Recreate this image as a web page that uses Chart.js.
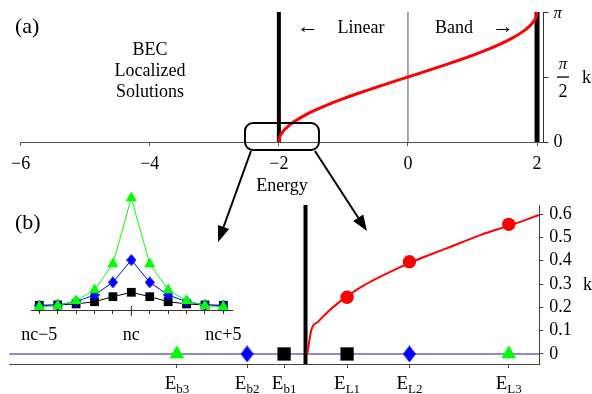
<!DOCTYPE html>
<html><head><meta charset="utf-8">
<script src="https://cdn.jsdelivr.net/npm/chart.js@4.4.0/dist/chart.umd.min.js"></script>
<style>
html,body{margin:0;padding:0;background:#fff;}
#wrap{position:relative;width:592px;height:394px;background:#fff;}
#wrap canvas{position:absolute;left:0;top:0;}
</style></head><body>
<div id="wrap">
<canvas id="ca" width="592" height="394"></canvas>
<canvas id="cb" width="592" height="394"></canvas>
<canvas id="cc" width="592" height="394"></canvas>
</div>
<script>
const SERIF = '"Liberation Serif","Times New Roman",serif';

// ---------- Panel (a): dispersion k(E) ----------
const aEnergy = [-2,-1.99,-1.95,-1.9,-1.8,-1.6,-1.4,-1.2,-1.0,-0.8,-0.6,-0.4,-0.2,0,0.2,0.4,0.6,0.8,1.0,1.2,1.4,1.6,1.8,1.9,1.95,1.99,2];
const aK      = [0,0.100,0.224,0.318,0.451,0.644,0.795,0.927,1.047,1.159,1.266,1.369,1.471,1.571,1.671,1.772,1.876,1.982,2.094,2.214,2.346,2.498,2.691,2.824,2.918,3.042,3.142];
const aXTicks  = [-6,-4,-2,0,2];
const aXLabels = ['\u22126','\u22124','\u22122','0','2'];
const aKTicks  = [0, Math.PI/2, Math.PI];
const aBandEdges = [-2, 2];
const aCenterE = 0;
const aXRange = [-6, 2.1];
const aKRange = [0, Math.PI];
const aZoomBox = {e0:-2.525, e1:-1.379, k0:-0.193, k1:0.459};

// ---------- Panel (b): zoom near the band edge ----------
const bBandEdge = -2;
const bLevelNames = ['b3','b2','b1','L1','L2','L3'];
const bLevelE     = [-2.099,-2.045,-2.0165,-1.968,-1.920,-1.8435];
const bTrianglesE = [-2.099,-1.8435];
const bDiamondsE  = [-2.045,-1.920];
const bSquaresE   = [-2.0165,-1.968];
const bCircleE    = [-1.968,-1.920,-1.8435];
const bCircleK    = [0.243,0.396,0.556];
const bCurveE = [-1.9986,-1.9955,-1.9904,-1.9827,-1.9750,-1.9691,-1.9545,-1.9427,-1.9175,-1.8914,-1.8654,-1.8402,-1.8202];
const bCurveK = [0,0.103,0.138,0.181,0.218,0.243,0.296,0.331,0.396,0.453,0.510,0.556,0.596];
const bKTicks = [0,0.1,0.2,0.3,0.4,0.5,0.6];
const bXRange = [-2.228,-1.820];
const bKRange = [-0.043,0.639];
const bArrowTips = [{e:-2.0673,k:0.48},{e:-1.9527,k:0.527}];

// ---------- Inset: localized profiles ----------
const insetSites = [-5,-4,-3,-2,-1,0,1,2,3,4,5];
const insetLabels = {'-5':'nc\u22125','0':'nc','5':'nc+5'};
const insetGreen = [0.029,0.038,0.083,0.179,0.411,1.0,0.411,0.179,0.083,0.038,0.029];
const insetBlue  = [0.038,0.045,0.074,0.134,0.247,0.446,0.247,0.134,0.074,0.045,0.038];
const insetBlack = [0.042,0.045,0.054,0.074,0.119,0.158,0.119,0.074,0.054,0.045,0.042];
const insetXRange = [-5.45,5.47];
const insetYRange = [0,1.071];

function diamond(w,h,color){
  const c=document.createElement('canvas');c.width=w;c.height=h;
  const g=c.getContext('2d');g.fillStyle=color;g.beginPath();
  g.moveTo(w/2,0);g.lineTo(w,h/2);g.lineTo(w/2,h);g.lineTo(0,h/2);g.closePath();g.fill();
  return c;
}
function pts(xs,ys){return xs.map((x,i)=>({x:x,y:ys[i]}));}
function txt(ctx,s,x,y,size,align,style){
  ctx.font=(style||'')+' '+size+'px '+SERIF;ctx.textAlign=align||'left';ctx.textBaseline='alphabetic';
  ctx.fillStyle='#000';ctx.fillText(s,x,y);
}
const base = {responsive:false,animation:false,events:[],plugins:{legend:{display:false},tooltip:{enabled:false}}};

// ---------------- Chart A ----------------
const chartA = new Chart(document.getElementById('ca'),{
  type:'line',
  data:{datasets:[
    {data:pts(aEnergy,aK),borderColor:'#ff0000',borderWidth:3,pointRadius:0,cubicInterpolationMode:'monotone',clip:false},
    {data:[{x:aBandEdges[0],y:aKRange[0]},{x:aBandEdges[0],y:aKRange[1]}],borderColor:'#000',borderWidth:4,pointRadius:0,clip:false},
    {data:[{x:aBandEdges[1],y:aKRange[0]},{x:aBandEdges[1],y:aKRange[1]}],borderColor:'#000',borderWidth:5,pointRadius:0,clip:false},
    {data:[{x:aCenterE,y:aKRange[0]},{x:aCenterE,y:aKRange[1]}],borderColor:'#555',borderWidth:1,pointRadius:0,clip:false}
  ]},
  options:Object.assign({},base,{
    layout:{padding:{left:20.7,top:12,right:0,bottom:0}},
    scales:{
      x:{type:'linear',min:aXRange[0],max:aXRange[1],
        afterBuildTicks:s=>{s.ticks=aXTicks.map(v=>({value:v}));},
        afterFit:s=>{s.height=252;s.paddingLeft=0;s.paddingRight=0;},
        grid:{drawOnChartArea:false,drawTicks:true,tickLength:4,color:'#555'},
        border:{color:'#555',width:1},
        ticks:{autoSkip:false,maxRotation:0,minRotation:0,padding:7,color:'#000',font:{family:SERIF,size:18},
          callback:(v,i)=>aXLabels[i]}},
      y:{type:'linear',position:'right',min:aKRange[0],max:aKRange[1],
        afterBuildTicks:s=>{s.ticks=aKTicks.map(v=>({value:v}));},
        afterFit:s=>{s.width=48.5;s.paddingTop=0;s.paddingBottom=0;},
        grid:{drawOnChartArea:false,drawTicks:true,tickLength:5,color:'#333'},
        border:{color:'#333',width:1},
        ticks:{display:false}}
    }
  }),
  plugins:[{id:'aText',afterDraw(c){
    const ctx=c.ctx, ys=c.scales.y;
    ctx.save();
    txt(ctx,'(a)',15,33,22);
    txt(ctx,'BEC',150,55,18,'center');
    txt(ctx,'Localized',150,76,18,'center');
    txt(ctx,'Solutions',150,97,18,'center');
    txt(ctx,'\u2190',308,33,22,'center');
    txt(ctx,'Linear',361,33,18,'center');
    txt(ctx,'Band',454,33,18,'center');
    txt(ctx,'\u2192',503,33,22,'center');
    txt(ctx,'Energy',282,191,18,'center');
    const xr=ys.left+10;
    txt(ctx,'\u03c0',xr,ys.getPixelForValue(aKTicks[2])+6,17,'left','italic');
    txt(ctx,'0',xr,ys.getPixelForValue(aKTicks[0])+5,18);
    const ym=ys.getPixelForValue(aKTicks[1]);
    txt(ctx,'\u03c0',563,ym-8,17,'center','italic');
    ctx.fillStyle='#000';ctx.fillRect(557,ym-0.6,12,1.3);
    txt(ctx,'2',563,ym+20,18,'center');
    txt(ctx,'k',582,ym+6,18);
    ctx.restore();
  }}]
});

// ---------------- Chart B ----------------
const chartB = new Chart(document.getElementById('cb'),{
  type:'line',
  data:{datasets:[
    {data:pts(bCircleE,bCircleK),showLine:false,pointStyle:'circle',pointRadius:6.7,pointBackgroundColor:'#ff0000',pointBorderWidth:0,clip:false},
    {data:bTrianglesE.map(e=>({x:e,y:0})),showLine:false,pointStyle:'triangle',pointRadius:8.6,pointBackgroundColor:'#00ff00',pointBorderWidth:0,clip:false},
    {data:bDiamondsE.map(e=>({x:e,y:0})),showLine:false,pointStyle:diamond(13,17,'#0000ff'),pointRadius:8,clip:false},
    {data:bSquaresE.map(e=>({x:e,y:0})),showLine:false,pointStyle:'rect',pointRadius:9.4,pointBackgroundColor:'#000',pointBorderWidth:0,clip:false},
    {data:pts(bCurveE,bCurveK),borderColor:'#ff0000',borderWidth:2,pointRadius:0,cubicInterpolationMode:'monotone',clip:false},
    {data:[{x:bBandEdge,y:bKRange[0]},{x:bBandEdge,y:bKRange[1]}],borderColor:'#000',borderWidth:4,pointRadius:0,clip:false},
    {data:[{x:bXRange[0],y:0},{x:bXRange[1],y:0}],borderColor:'#1c1c96',borderWidth:1.2,pointRadius:0,clip:false}
  ]},
  options:Object.assign({},base,{
    layout:{padding:{left:9,top:205,right:0,bottom:0}},
    scales:{
      x:{type:'linear',min:bXRange[0],max:bXRange[1],
        afterBuildTicks:s=>{s.ticks=bLevelE.map(v=>({value:v}));},
        afterFit:s=>{s.height=30;s.paddingLeft=0;s.paddingRight=0;},
        grid:{drawOnChartArea:false,drawTicks:true,tickLength:4,color:'#444'},
        border:{color:'#444',width:1},
        ticks:{display:false}},
      y:{type:'linear',position:'right',min:bKRange[0],max:bKRange[1],
        afterBuildTicks:s=>{s.ticks=bKTicks.map(v=>({value:v}));},
        afterFit:s=>{s.width=52.7;s.paddingTop=0;s.paddingBottom=0;},
        grid:{drawOnChartArea:false,drawTicks:true,tickLength:4,color:'#444'},
        border:{color:'#444',width:1},
        ticks:{padding:6,color:'#000',font:{family:SERIF,size:18},callback:(v,i)=>String(bKTicks[i])}}
    }
  }),
  plugins:[{id:'bText',afterDraw(c){
    const ctx=c.ctx, xs=c.scales.x;
    ctx.save();
    txt(ctx,'(b)',15,229,22);
    txt(ctx,'k',583,290,18);
    bLevelE.forEach((e,i)=>{
      const px=xs.getPixelForValue(e);
      ctx.font='19px '+SERIF;const w1=ctx.measureText('E').width;
      ctx.font='13px '+SERIF;const w2=ctx.measureText(bLevelNames[i]).width;
      const x0=px-(w1+w2)/2;
      txt(ctx,'E',x0,389,19);
      txt(ctx,bLevelNames[i],x0+w1,393,13);
    });
    ctx.restore();
  }}]
});

// ---------------- Chart C (inset + connectors) ----------------
const chartC = new Chart(document.getElementById('cc'),{
  type:'line',
  data:{datasets:[
    {data:pts(insetSites,insetGreen),borderColor:'#00ff00',borderWidth:1,pointStyle:'triangle',pointRadius:6.5,pointBackgroundColor:'#00ff00',pointBorderWidth:0,clip:false},
    {data:pts(insetSites,insetBlue),borderColor:'#0000ff',borderWidth:1,pointStyle:diamond(10,12,'#0000ff'),pointRadius:6,clip:false},
    {data:pts(insetSites,insetBlack),borderColor:'#000',borderWidth:1,pointStyle:'rect',pointRadius:6.2,pointBackgroundColor:'#000',pointBorderWidth:0,clip:false}
  ]},
  options:Object.assign({},base,{
    layout:{padding:{left:31,top:190,right:360,bottom:0}},
    scales:{
      x:{type:'linear',min:insetXRange[0],max:insetXRange[1],
        afterBuildTicks:s=>{s.ticks=insetSites.map(v=>({value:v}));},
        afterFit:s=>{s.height=84;s.paddingLeft=0;s.paddingRight=0;},
        grid:{drawOnChartArea:false,drawTicks:true,tickLength:4,color:'#333'},
        border:{color:'#333',width:1},
        ticks:{autoSkip:false,maxRotation:0,minRotation:0,padding:10,color:'#000',font:{family:SERIF,size:18},
          callback:(v,i)=>insetLabels[String(insetSites[i])]||''}},
      y:{type:'linear',display:false,min:insetYRange[0],max:insetYRange[1]}
    }
  }),
  plugins:[{id:'overlay',afterDraw(c){
    const ctx=c.ctx;
    ctx.save();
    const xc=c.scales.x.getPixelForValue(0), yb=c.chartArea.bottom;
    ctx.strokeStyle='#333';ctx.lineWidth=1;ctx.beginPath();ctx.moveTo(xc,yb-4);ctx.lineTo(xc,yb+6);ctx.stroke();
    const ax=chartA.scales.x, ay=chartA.scales.y;
    const l=ax.getPixelForValue(aZoomBox.e0), r=ax.getPixelForValue(aZoomBox.e1);
    const t=ay.getPixelForValue(aZoomBox.k1), b=ay.getPixelForValue(aZoomBox.k0);
    ctx.strokeStyle='#000';ctx.lineWidth=2;ctx.beginPath();
    if(ctx.roundRect){ctx.roundRect(l,t,r-l,b-t,8);}else{ctx.rect(l,t,r-l,b-t);}
    ctx.stroke();
    const bx=chartB.scales.x, by=chartB.scales.y;
    const starts=[{x:l+6,y:b+1},{x:r-4,y:b+1}];
    bArrowTips.forEach((tp,i)=>{
      const x2=bx.getPixelForValue(tp.e), y2=by.getPixelForValue(tp.k);
      const x1=starts[i].x, y1=starts[i].y;
      const ang=Math.atan2(y2-y1,x2-x1), hl=16, hw=6;
      const bxp=x2-hl*Math.cos(ang), byp=y2-hl*Math.sin(ang);
      ctx.lineWidth=2;ctx.beginPath();ctx.moveTo(x1,y1);ctx.lineTo(bxp,byp);ctx.stroke();
      ctx.fillStyle='#000';ctx.beginPath();ctx.moveTo(x2,y2);
      ctx.lineTo(bxp+hw*Math.sin(ang),byp-hw*Math.cos(ang));
      ctx.lineTo(bxp-hw*Math.sin(ang),byp+hw*Math.cos(ang));ctx.closePath();ctx.fill();
    });
    ctx.restore();
  }}]
});
</script>
</body></html>
